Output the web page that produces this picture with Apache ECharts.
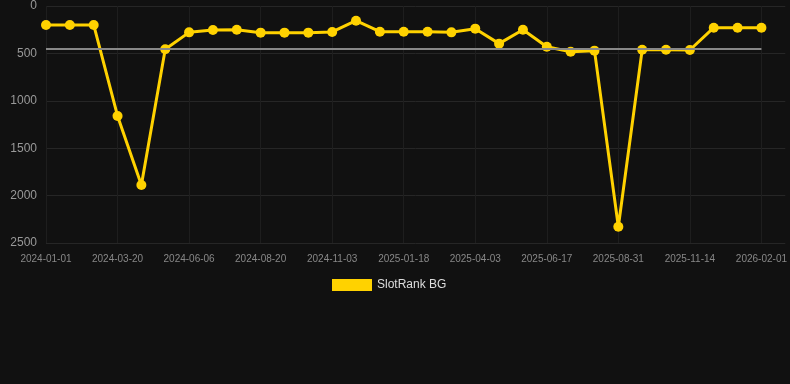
<!DOCTYPE html>
<html>
<head>
<meta charset="utf-8">
<script src="https://cdn.jsdelivr.net/npm/echarts@6/dist/echarts.min.js"></script>
<style>
html,body{margin:0;padding:0;background:#111111;}
#chart{width:790px;height:384px;}
</style>
</head>
<body>
<div id="chart"></div>
<script>
var dates = ['2024-01-01','2024-01-27','2024-02-22','2024-03-20','2024-04-14','2024-05-11','2024-06-06','2024-07-01','2024-07-26','2024-08-20','2024-09-14','2024-10-09','2024-11-03','2024-11-28','2024-12-23','2025-01-18','2025-02-12','2025-03-09','2025-04-03','2025-04-28','2025-05-23','2025-06-17','2025-07-12','2025-08-06','2025-08-31','2025-09-25','2025-10-20','2025-11-14','2025-12-10','2026-01-06','2026-02-01'];
var ranks = [200,200,200,1160,1888,457,278,253,250,281,281,281,274,155,271,271,271,278,239,397,250,429,482,471,2328,461,461,464,229,229,229];
var seriesName = 'SlotRank BG';

var avg = ranks.reduce(function (a, b) { return a + b; }, 0) / ranks.length;

var chart = echarts.init(document.getElementById('chart'));
chart.setOption({
  backgroundColor: '#111111',
  animation: false,
  grid: {left: 46, right: 0, top: 6, bottom: 141, containLabel: false},
  legend: {
    data: [seriesName],
    bottom: 88,
    left: 327,
    itemWidth: 40,
    itemHeight: 12,
    itemGap: 6,
    icon: 'rect',
    textStyle: {color: '#dddddd', fontSize: 12, fontFamily: 'Liberation Sans, Arial, sans-serif'}
  },
  xAxis: {
    type: 'category',
    data: dates,
    boundaryGap: false,
    max: 31.2,
    axisLine: {show: false},
    axisTick: {show: false},
    axisLabel: {interval: 2, color: '#888888', fontSize: 10, margin: 11, fontFamily: 'Liberation Sans, Arial, sans-serif'},
    splitLine: {show: true, interval: 2, lineStyle: {color: '#1e1e1e', width: 1}}
  },
  yAxis: {
    type: 'value',
    inverse: true,
    min: 0,
    max: 2500,
    interval: 500,
    axisLine: {show: false},
    axisTick: {show: false},
    axisLabel: {color: '#999999', fontSize: 12, margin: 9, fontFamily: 'Liberation Sans, Arial, sans-serif',
      formatter: function (v) { return String(v); }},
    splitLine: {lineStyle: {color: '#262626', width: 1}}
  },
  series: [{
    name: seriesName,
    type: 'line',
    data: ranks,
    symbol: 'circle',
    symbolSize: 10,
    itemStyle: {color: '#FFD200'},
    lineStyle: {color: '#FFD200', width: 3},
    markLine: {
      silent: true,
      symbol: ['none','none'],
      label: {show: false},
      lineStyle: {color: '#888888', type: 'solid', width: 2},
      data: [[{coord: [dates[0], avg]}, {coord: [dates[dates.length - 1], avg]}]]
    }
  }]
});
</script>
</body>
</html>
